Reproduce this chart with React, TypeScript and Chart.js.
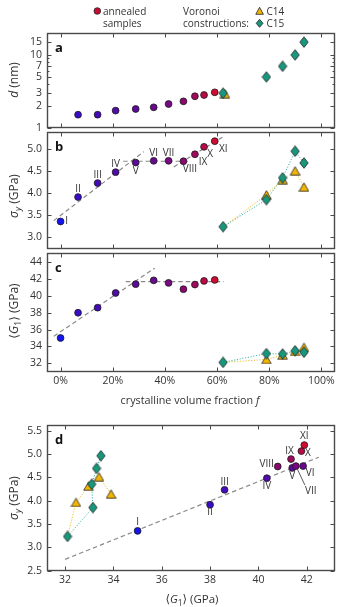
import React, { useEffect, useRef } from "react";
import { Chart, registerables } from "chart.js";
Chart.register(...registerables);

const W = 355;
const H = 607;
const AXIS_W = 47;
const RIGHT_PAD = 20;
const FONT = '"Open Sans", "Noto Sans", "DejaVu Sans", sans-serif';

// ---------------- data ----------------
const sampleNames = ["I", "II", "III", "IV", "V", "VI", "VII", "VIII", "IX", "X", "XI"];
const sampleF = [0, 6.7, 14.2, 21.1, 28.8, 35.7, 41.4, 47.1, 51.5, 55.0, 59.1];
const sampleD: (number | null)[] = [null, 1.52, 1.52, 1.73, 1.82, 1.92, 2.13, 2.32, 2.72, 2.83, 3.08];
const sampleSigma = [3.35, 3.91, 4.23, 4.48, 4.7, 4.74, 4.74, 4.73, 4.89, 5.06, 5.19];
const sampleG = [35.0, 38.0, 38.6, 40.35, 41.4, 41.85, 41.55, 40.8, 41.35, 41.78, 41.9];

const voronoiF = [62.3, 78.9, 85.1, 89.9, 93.3];
const voronoiD = [3.0, 5.0, 7.0, 10.0, 15.0];
const c14F_a = [63.0];
const c14D_a = [2.95];
const c14Sigma = [3.22, 3.96, 4.31, 4.51, 4.14];
const c15Sigma = [3.23, 3.85, 4.35, 4.96, 4.69];
const c14G = [32.1, 32.45, 32.97, 33.4, 33.9];
const c15G = [32.1, 33.15, 33.1, 33.48, 33.3];

// fitted guide lines (end points)
const fitB1F = [-2.6, 31.9];
const fitB1S = [3.37, 4.95];
const fitB2F = [24, 49.5];
const fitB2S = [4.73, 4.73];
const fitB3F = [43.4, 62.6];
const fitB3S = [4.6, 5.3];
const fitC1F = [-2.6, 36.1];
const fitC1G = [35.2, 43.3];
const fitC2F = [25, 62.6];
const fitC2G = [41.7, 41.7];
const fitDG = [32.0, 42.5];
const fitDS = [2.74, 4.93];

// ticks
const fTicks = [0, 20, 40, 60, 80, 100];
const dTicks = [1, 2, 3, 5, 7, 10, 15];
const dMinorTicks = [4, 6, 8, 9];
const sigmaTicksB = [3.0, 3.5, 4.0, 4.5, 5.0];
const gTicksC = [32, 34, 36, 38, 40, 42, 44];
const gTicksD = [32, 34, 36, 38, 40, 42];
const sigmaTicksD = [2.5, 3.0, 3.5, 4.0, 4.5, 5.0, 5.5];

// ---------------- styles ----------------
const circleColors = [
  "#1414f0", "#3a0cc8", "#450bbb", "#520aab", "#5e099c", "#6b0890",
  "#790883", "#8c0870", "#a00a5c", "#b80b48", "#d00c32",
];
const TEAL = "#17977c";
const GOLD = "#f2b705";
const TEAL_LINE = "#3fb7ad";
const GOLD_LINE = "#f0bd2a";
const FRAME = "#4a4a4a";
// first C14 marker sits underneath the C15 one (shared start point)
const triRadii = [0, 5, 5, 5, 5];

const labelOffsetsB: [number, number][] = [
  [6, 0], [0, -8], [0, -8], [0, -8.5], [0, 8.5], [0, -7.5],
  [0, -7.5], [6.5, 8], [8, 8], [6, 7.5], [8.5, 8],
];
const labelOffsetsD: [number, number][] = [
  [0, -8.5], [0, 7.5], [0, -7.5], [0, 7.5], [0, 8], [7, 7],
  [15, 25], [-11, -2.5], [-1.5, -7.5], [6.5, 2], [0, -8.5],
];

let triImg: HTMLCanvasElement | null = null;
let diaImg: HTMLCanvasElement | null = null;
function getTri() {
  if (!triImg) {
    const c = document.createElement("canvas");
    c.width = 11;
    c.height = 10;
    const g = c.getContext("2d")!;
    g.beginPath();
    g.moveTo(5.5, 0.8);
    g.lineTo(10.3, 9.2);
    g.lineTo(0.7, 9.2);
    g.closePath();
    g.fillStyle = GOLD;
    g.fill();
    g.lineWidth = 0.8;
    g.strokeStyle = "#222";
    g.stroke();
    triImg = c;
  }
  return triImg;
}
function getDia() {
  if (!diaImg) {
    const c = document.createElement("canvas");
    c.width = 10;
    c.height = 12;
    const g = c.getContext("2d")!;
    g.beginPath();
    g.moveTo(5, 0.7);
    g.lineTo(9.2, 6);
    g.lineTo(5, 11.3);
    g.lineTo(0.8, 6);
    g.closePath();
    g.fillStyle = TEAL;
    g.fill();
    g.lineWidth = 0.8;
    g.strokeStyle = "#222";
    g.stroke();
    diaImg = c;
  }
  return diaImg;
}

// Chart.js draws lower `order` on top
const ORDER_FIT = 10;
const ORDER_TRI = 5;
const ORDER_DIA = 4;
const ORDER_CIRC = 1;

const pts = (xs: number[], ys: (number | null)[]) =>
  xs.map((x, i) => ({ x, y: ys[i] })).filter((p) => p.y != null);

const fitLine = (xs: number[], ys: number[]) => ({
  data: pts(xs, ys),
  showLine: true,
  borderColor: "#8a8a8a",
  borderWidth: 1.2,
  borderDash: [4.5, 3],
  pointRadius: 0,
  order: ORDER_FIT,
});

const voro = (
  xs: number[],
  ys: number[],
  img: any,
  lineColor: string,
  showLine: boolean,
  order: number,
  radius: any = 5
) => ({
  data: pts(xs, ys),
  showLine,
  borderColor: lineColor,
  borderWidth: 1,
  borderDash: [1.2, 1.6],
  pointStyle: img,
  pointRadius: radius,
  order,
});

const circles = (xs: number[], ys: (number | null)[]) => {
  const idx = xs.map((_, i) => i).filter((i) => ys[i] != null);
  return {
    data: idx.map((i) => ({ x: xs[i], y: ys[i] })),
    showLine: false,
    pointStyle: "circle",
    pointRadius: 3.4,
    pointBackgroundColor: idx.map((i) => circleColors[i]),
    pointBorderColor: "#1a1a1a",
    pointBorderWidth: 0.8,
    order: ORDER_CIRC,
  };
};

type Spec = {
  top: number;
  bottom: number;
  letter: string;
  xMin: number;
  xMax: number;
  xTicks: number[];
  xShow: boolean;
  xFmt: (v: number) => string;
  yType: string;
  yMin: number;
  yMax: number;
  yTicks: number[];
  yMinor?: number[];
  yFmt: (v: number) => string;
  datasets: any[];
  labels?: { xs: number[]; ys: number[]; offs: [number, number][]; leader?: number };
};

function makeConfig(spec: Spec): any {
  const xAxisH = spec.xShow ? 18 : 0;
  const tickFont = { family: FONT, size: 10.5 };
  const frame = {
    id: "frame",
    afterDatasetsDraw(chart: any) {
      const { ctx, chartArea: a } = chart;
      const xs = chart.scales.x;
      const ys = chart.scales.y;
      ctx.save();
      ctx.strokeStyle = FRAME;
      ctx.lineWidth = 1;
      const L = Math.round(a.left) + 0.5;
      const R = Math.round(a.right) - 0.5;
      const T = Math.round(a.top) + 0.5;
      const B = Math.round(a.bottom) - 0.5;
      ctx.beginPath();
      spec.xTicks.forEach((v) => {
        const p = Math.round(xs.getPixelForValue(v)) + 0.5;
        ctx.moveTo(p, B);
        ctx.lineTo(p, B - 4);
        ctx.moveTo(p, T);
        ctx.lineTo(p, T + 4);
      });
      const yt = (v: number, len: number) => {
        const p = Math.round(ys.getPixelForValue(v)) + 0.5;
        ctx.moveTo(L, p);
        ctx.lineTo(L + len, p);
        ctx.moveTo(R, p);
        ctx.lineTo(R - len, p);
      };
      spec.yTicks.forEach((v) => yt(v, 4));
      (spec.yMinor || []).forEach((v) => yt(v, 2));
      ctx.stroke();
      ctx.lineWidth = 1.4;
      ctx.strokeRect(L, T, R - L, B - T);
      ctx.restore();
    },
    afterDraw(chart: any) {
      const { ctx, chartArea: a } = chart;
      ctx.save();
      ctx.fillStyle = "#111";
      ctx.font = "bold 13px " + FONT;
      ctx.textAlign = "left";
      ctx.textBaseline = "middle";
      ctx.fillText(spec.letter, a.left + 8, a.top + 15);
      if (spec.labels) {
        const lb = spec.labels;
        const xs = chart.scales.x;
        const ys = chart.scales.y;
        ctx.font = "10px " + FONT;
        ctx.fillStyle = "#333";
        ctx.textAlign = "center";
        ctx.textBaseline = "middle";
        lb.xs.forEach((xv, i) => {
          const px = xs.getPixelForValue(xv);
          const py = ys.getPixelForValue(lb.ys[i]);
          const [dx, dy] = lb.offs[i];
          ctx.fillText(sampleNames[i], px + dx, py + dy);
          if (lb.leader === i) {
            ctx.strokeStyle = "#333";
            ctx.lineWidth = 0.8;
            ctx.beginPath();
            ctx.moveTo(px + 1.5, py + 3);
            ctx.lineTo(px + 9, py + 19);
            ctx.stroke();
          }
        });
      }
      ctx.restore();
    },
  };
  return {
    type: "scatter",
    data: { datasets: spec.datasets },
    plugins: [frame],
    options: {
      animation: false,
      responsive: false,
      maintainAspectRatio: false,
      devicePixelRatio: 1,
      events: [],
      layout: {
        padding: { left: 0, right: RIGHT_PAD, top: spec.top, bottom: H - spec.bottom - xAxisH },
      },
      plugins: { legend: { display: false }, tooltip: { enabled: false } },
      scales: {
        x: {
          type: "linear",
          min: spec.xMin,
          max: spec.xMax,
          display: spec.xShow,
          grid: { display: false, drawTicks: false },
          border: { display: false },
          afterBuildTicks: (ax: any) => {
            ax.ticks = spec.xTicks.map((v) => ({ value: v }));
          },
          afterFit: (ax: any) => {
            ax.height = xAxisH;
          },
          ticks: {
            autoSkip: false,
            maxRotation: 0,
            padding: 3,
            color: "#333",
            font: tickFont,
            callback: (v: any) => spec.xFmt(Number(v)),
          },
        },
        y: {
          type: spec.yType,
          min: spec.yMin,
          max: spec.yMax,
          grid: { display: false, drawTicks: false },
          border: { display: false },
          afterBuildTicks: (ax: any) => {
            ax.ticks = spec.yTicks.map((v) => ({ value: v }));
          },
          afterFit: (ax: any) => {
            ax.width = AXIS_W;
          },
          ticks: {
            autoSkip: false,
            padding: 5,
            color: "#333",
            font: tickFont,
            callback: (v: any) => spec.yFmt(Number(v)),
          },
        },
      },
    },
  };
}

const pctFmt = (v: number) => `${v}%`;
const intFmt = (v: number) => `${v}`;
const oneDec = (v: number) => v.toFixed(1);

function configA() {
  return makeConfig({
    top: 33,
    bottom: 128,
    letter: "a",
    xMin: -5.2,
    xMax: 105.2,
    xTicks: fTicks,
    xShow: false,
    xFmt: pctFmt,
    yType: "logarithmic",
    yMin: 1,
    yMax: 20,
    yTicks: dTicks,
    yMinor: dMinorTicks,
    yFmt: intFmt,
    datasets: [
      circles(sampleF, sampleD),
      voro(voronoiF, voronoiD, getDia(), TEAL_LINE, false, ORDER_DIA),
      voro(c14F_a, c14D_a, getTri(), GOLD_LINE, false, ORDER_TRI),
    ],
  });
}

function configB() {
  return makeConfig({
    top: 132,
    bottom: 249,
    letter: "b",
    xMin: -5.2,
    xMax: 105.2,
    xTicks: fTicks,
    xShow: false,
    xFmt: pctFmt,
    yType: "linear",
    yMin: 2.72,
    yMax: 5.4,
    yTicks: sigmaTicksB,
    yFmt: oneDec,
    datasets: [
      circles(sampleF, sampleSigma),
      voro(voronoiF, c15Sigma, getDia(), TEAL_LINE, true, ORDER_DIA),
      voro(voronoiF, c14Sigma, getTri(), GOLD_LINE, true, ORDER_TRI, triRadii),
      fitLine(fitB1F, fitB1S),
      fitLine(fitB2F, fitB2S),
      fitLine(fitB3F, fitB3S),
    ],
    labels: { xs: sampleF, ys: sampleSigma, offs: labelOffsetsB },
  });
}

function configC() {
  return makeConfig({
    top: 253,
    bottom: 372,
    letter: "c",
    xMin: -5.2,
    xMax: 105.2,
    xTicks: fTicks,
    xShow: true,
    xFmt: pctFmt,
    yType: "linear",
    yMin: 30.96,
    yMax: 45.1,
    yTicks: gTicksC,
    yFmt: intFmt,
    datasets: [
      circles(sampleF, sampleG),
      voro(voronoiF, c15G, getDia(), TEAL_LINE, true, ORDER_DIA),
      voro(voronoiF, c14G, getTri(), GOLD_LINE, true, ORDER_TRI, triRadii),
      fitLine(fitC1F, fitC1G),
      fitLine(fitC2F, fitC2G),
    ],
  });
}

function configD() {
  return makeConfig({
    top: 425,
    bottom: 571,
    letter: "d",
    xMin: 31.25,
    xMax: 43.17,
    xTicks: gTicksD,
    xShow: true,
    xFmt: intFmt,
    yType: "linear",
    yMin: 2.49,
    yMax: 5.62,
    yTicks: sigmaTicksD,
    yFmt: oneDec,
    datasets: [
      circles(sampleG, sampleSigma),
      voro(c15G, c15Sigma, getDia(), TEAL_LINE, true, ORDER_DIA),
      voro(c14G, c14Sigma, getTri(), GOLD_LINE, true, ORDER_TRI, triRadii),
      fitLine(fitDG, fitDS),
    ],
    labels: { xs: sampleG, ys: sampleSigma, offs: labelOffsetsD, leader: 6 },
  });
}

function ChartCanvas({ make }: { make: () => any }) {
  const ref = useRef<HTMLCanvasElement>(null);
  useEffect(() => {
    const chart = new Chart(ref.current!, make());
    return () => chart.destroy();
  }, []);
  return (
    <canvas
      ref={ref}
      width={W}
      height={H}
      style={{ position: "absolute", left: 0, top: 0, width: W, height: H }}
    />
  );
}

function Txt({ x, y, children, align = "center", size = 10.5, rotate = false }: any) {
  const tx = align === "center" ? "-50%" : align === "left" ? "0" : "-100%";
  return (
    <div
      style={{
        position: "absolute",
        left: x,
        top: y,
        transform: `translate(${tx}, -50%)${rotate ? " rotate(-90deg)" : ""}`,
        whiteSpace: "nowrap",
        lineHeight: 1,
        fontSize: size,
        fontFamily: FONT,
        color: "#333",
      }}
    >
      {children}
    </div>
  );
}

const subStyle: React.CSSProperties = { fontSize: "0.72em", verticalAlign: "-0.3em", lineHeight: 0 };

const SigmaTitle = () => (
  <>
    <i>σ</i>
    <sub style={subStyle}>
      <i>y</i>
    </sub>{" "}
    (GPa)
  </>
);
const GTitle = () => (
  <>
    ⟨<i>G</i>
    <sub style={subStyle}>1</sub>⟩ (GPa)
  </>
);

export default function App() {
  return (
    <div
      style={{
        position: "absolute",
        left: 0,
        top: 0,
        width: W,
        height: H,
        background: "#fff",
        overflow: "hidden",
      }}
    >
      <ChartCanvas make={configA} />
      <ChartCanvas make={configB} />
      <ChartCanvas make={configC} />
      <ChartCanvas make={configD} />

      {/* legend */}
      <svg width={W} height={32} style={{ position: "absolute", left: 0, top: 0 }}>
        <circle cx={97.3} cy={11} r={3.3} fill="#c80c32" stroke="#222" strokeWidth={0.8} />
        <polygon points="259.6,7.3 263.4,14.3 255.8,14.3" fill={GOLD} stroke="#222" strokeWidth={0.8} />
        <polygon points="259.6,19.3 263,23.3 259.6,27.3 256.2,23.3" fill={TEAL} stroke="#222" strokeWidth={0.8} />
      </svg>
      <Txt x={103} y={11} align="left" size={10}>annealed</Txt>
      <Txt x={103} y={22.7} align="left" size={10}>samples</Txt>
      <Txt x={183} y={11} align="left" size={10}>Voronoi</Txt>
      <Txt x={183} y={22.7} align="left" size={10}>constructions:</Txt>
      <Txt x={266.5} y={11} align="left" size={10}>C14</Txt>
      <Txt x={266.5} y={23} align="left" size={10}>C15</Txt>

      {/* axis titles */}
      <Txt x={14} y={80} rotate size={12}>
        <i>d</i> (nm)
      </Txt>
      <Txt x={14} y={196} rotate size={12}>
        <SigmaTitle />
      </Txt>
      <Txt x={14} y={311} rotate size={12}>
        <GTitle />
      </Txt>
      <Txt x={14} y={498} rotate size={12}>
        <SigmaTitle />
      </Txt>
      <Txt x={190} y={400} size={10.8}>
        crystalline volume fraction <i>f</i>
      </Txt>
      <Txt x={192} y={599} size={11.5}>
        <GTitle />
      </Txt>
    </div>
  );
}
